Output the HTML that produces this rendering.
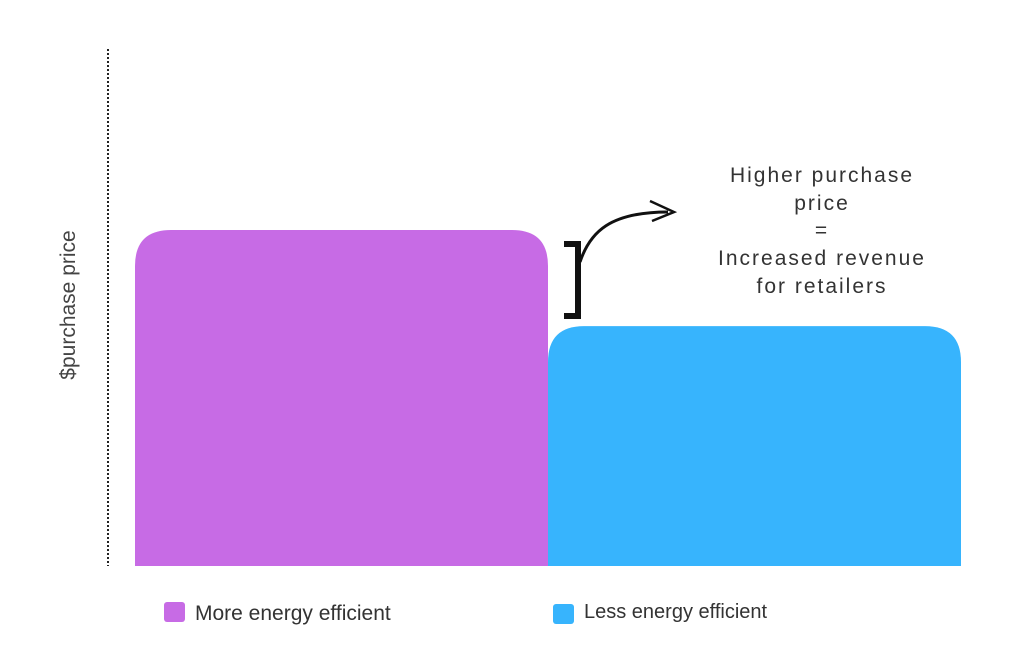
<!DOCTYPE html>
<html><head><meta charset="utf-8"><style>
body{margin:0;background:#fff;}
svg{display:block;font-family:"Liberation Sans",sans-serif;}
</style></head><body>
<svg id="chart" width="1018" height="654" viewBox="0 0 1018 654">
  <line x1="108" y1="49" x2="108" y2="566" stroke="#222" stroke-width="2" stroke-dasharray="2,2"/>
  <text transform="translate(75,305) rotate(-90)" text-anchor="middle" font-size="21" fill="#444">$purchase price</text>
  <g id="bars"></g>
  <path d="M564 244 L578 244 L578 316 L564 316" fill="none" stroke="#111" stroke-width="6"/>
  <path d="M580 262 C590 232 610 212 668 212" fill="none" stroke="#111" stroke-width="3"/>
  <path d="M650 201 L674 212 L652 221" fill="none" stroke="#111" stroke-width="2.5"/>
  <g font-size="21" fill="#333" text-anchor="middle" letter-spacing="2">
    <text x="822" y="182">Higher purchase</text>
    <text x="822" y="210">price</text>
    <text x="822" y="237">=</text>
    <text x="822" y="265">Increased revenue</text>
    <text x="822" y="293">for retailers</text>
  </g>
  <g>
    <rect x="164" y="602" width="21" height="20" rx="3" fill="#c76be5"/>
    <text x="195" y="620" font-size="21" fill="#333">More energy efficient</text>
    <rect x="553" y="604" width="21" height="20" rx="3" fill="#37b4fd"/>
    <text x="584" y="618" font-size="20" fill="#333">Less energy efficient</text>
  </g>
</svg>
<script>
const categories = ["More energy efficient", "Less energy efficient"];
const values = [100, 71.4];
const colors = ["#c76be5", "#37b4fd"];
const base = 566, pxPerUnit = 3.36, left = 135, bandW = 413, r = 36;
function y(v){ return base - v * pxPerUnit; }
function x(i){ return left + i * bandW; }
const g = document.getElementById('bars');
values.forEach((v, i) => {
  const x0 = x(i), x1 = x0 + bandW, yt = y(v);
  const rr = Math.min(r, (base - yt) / 2);
  const p = document.createElementNS('http://www.w3.org/2000/svg', 'path');
  p.setAttribute('d', `M${x0} ${base} L${x0} ${yt + rr} Q${x0} ${yt} ${x0 + rr} ${yt} L${x1 - rr} ${yt} Q${x1} ${yt} ${x1} ${yt + rr} L${x1} ${base} Z`);
  p.setAttribute('fill', colors[i]);
  
  
  g.appendChild(p);
});
</script>
</body></html>
